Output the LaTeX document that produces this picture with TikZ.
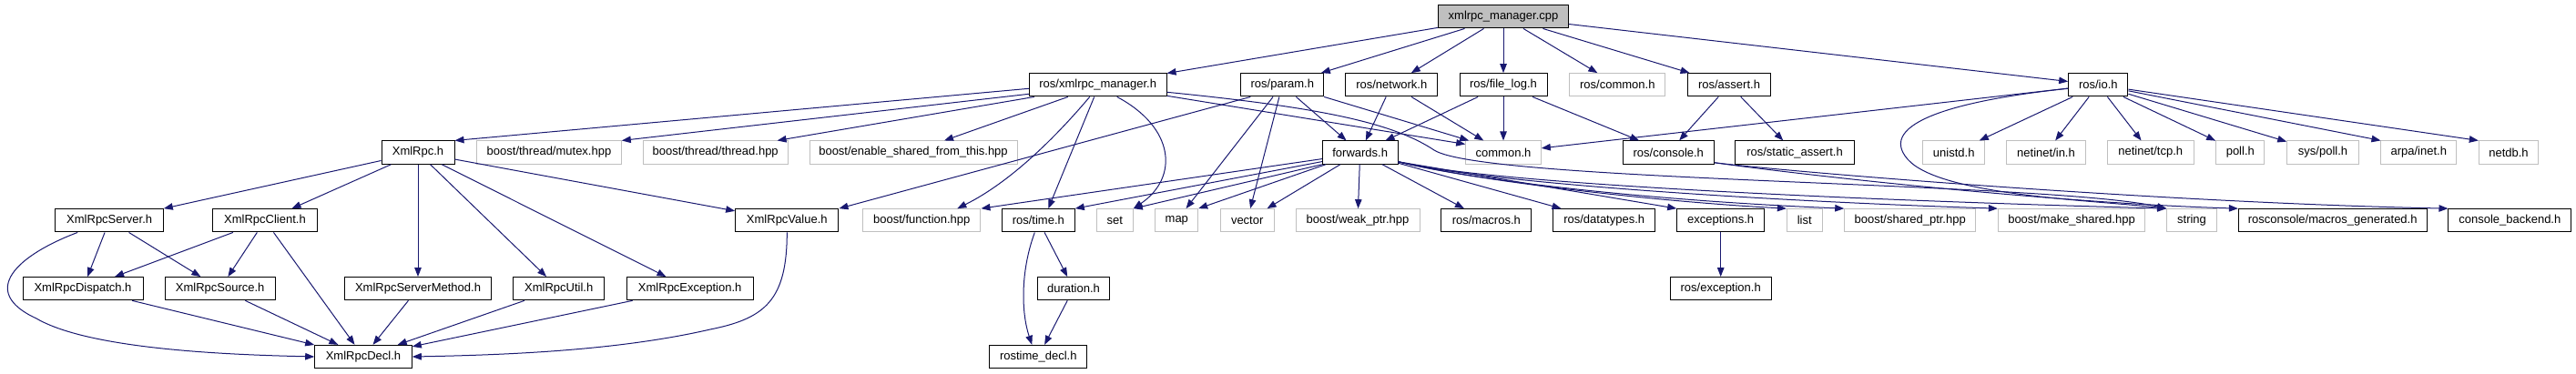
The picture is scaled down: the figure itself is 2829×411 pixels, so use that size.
\documentclass[tikz,border=0pt]{standalone}
\usepackage{fontspec}
\setmainfont{Liberation Sans}
\usetikzlibrary{arrows.meta}
\definecolor{edgeblue}{HTML}{191970}
\definecolor{grayborder}{HTML}{BFBFBF}
\begin{document}
\begin{tikzpicture}[x=1pt,y=-1pt,
  box/.style={rectangle, inner sep=0pt, minimum height=25.3pt, line width=1pt, fill=white,
              font=\fontsize{13}{15}\selectfont, anchor=center},
  doc/.style={box, draw=black},
  ext/.style={box, draw=grayborder},
  topnode/.style={doc, fill=grayborder},
  dep/.style={draw=edgeblue, line width=1pt, -{Triangle[length=10pt,width=7.5pt]}},
]
\useasboundingbox (0,0) rectangle (2829,411);

% row 0
\node[topnode, minimum width=142.6pt] (cpp) at (1651,18.3) {xmlrpc\_manager.cpp};
% row 1
\node[doc, minimum width=150.7pt] (xm) at (1205.7,93.3) {ros/xmlrpc\_manager.h};
\node[doc, minimum width=90.7pt] (param) at (1408.3,93.3) {ros/param.h};
\node[doc, minimum width=101.3pt] (network) at (1528.3,93.3) {ros/network.h};
\node[doc, minimum width=96pt] (filelog) at (1651,93.3) {ros/file\_log.h};
\node[ext, minimum width=105.3pt] (roscommon) at (1776.3,93.3) {ros/common.h};
\node[doc, minimum width=90.6pt] (assert) at (1899,93.3) {ros/assert.h};
\node[doc, minimum width=65.3pt] (io) at (2304.3,93.3) {ros/io.h};
% row 2
\node[doc, minimum width=80pt] (xmlrpc) at (459,167.6) {XmlRpc.h};
\node[ext, minimum width=158.6pt] (mutex) at (603,167.6) {boost/thread/mutex.hpp};
\node[ext, minimum width=158.7pt] (thread) at (785.7,167.6) {boost/thread/thread.hpp};
\node[ext, minimum width=228pt] (enable) at (1003,167.6) {boost/enable\_shared\_from\_this.hpp};
\node[doc, minimum width=82.7pt] (fwd) at (1493.7,167.6) {forwards.h};
\node[ext, minimum width=82.6pt] (commonh) at (1651,167.6) {common.h};
\node[doc, minimum width=100pt] (console) at (1832.3,167.6) {ros/console.h};
\node[doc, minimum width=130.6pt] (sassert) at (1971,167.6) {ros/static\_assert.h};
\node[ext, minimum width=68pt] (unistd) at (2145.7,167.6) {unistd.h};
\node[ext, minimum width=86.6pt] (netin) at (2247,167.6) {netinet/in.h};
\node[ext, minimum width=94.7pt] (nettcp) at (2361.7,167.6) {netinet/tcp.h};
\node[ext, minimum width=53.3pt] (poll) at (2460.3,167.6) {poll.h};
\node[ext, minimum width=78.6pt] (syspoll) at (2551,167.6) {sys/poll.h};
\node[ext, minimum width=82.7pt] (arpa) at (2656.3,167.6) {arpa/inet.h};
\node[ext, minimum width=65.4pt] (netdb) at (2755,167.6) {netdb.h};
% row 3
\node[doc, minimum width=119pt] (server) at (120.2,242.3) {XmlRpcServer.h};
\node[doc, minimum width=114.6pt] (client) at (291,242.3) {XmlRpcClient.h};
\node[doc, minimum width=113.3pt] (value) at (864.3,242.3) {XmlRpcValue.h};
\node[ext, minimum width=129.3pt] (function) at (1012.3,242.3) {boost/function.hpp};
\node[doc, minimum width=80pt] (time) at (1140.3,242.3) {ros/time.h};
\node[ext, minimum width=40pt] (set) at (1224.3,242.3) {set};
\node[ext, minimum width=46.7pt] (map) at (1292.3,242.3) {map};
\node[ext, minimum width=58.7pt] (vector) at (1369.7,242.3) {vector};
\node[ext, minimum width=136pt] (weak) at (1491,242.3) {boost/weak\_ptr.hpp};
\node[doc, minimum width=98.7pt] (macros) at (1632.3,242.3) {ros/macros.h};
\node[doc, minimum width=112pt] (datatypes) at (1761.7,242.3) {ros/datatypes.h};
\node[doc, minimum width=96pt] (exceptions) at (1889.7,242.3) {exceptions.h};
\node[ext, minimum width=38.7pt] (list) at (1981.7,242.3) {list};
\node[ext, minimum width=144pt] (sharedptr) at (2097.7,242.3) {boost/shared\_ptr.hpp};
\node[ext, minimum width=161.4pt] (makeshared) at (2275,242.3) {boost/make\_shared.hpp};
\node[ext, minimum width=54.6pt] (string) at (2407,242.3) {string};
\node[doc, minimum width=206.7pt] (macrosgen) at (2561.7,242.3) {rosconsole/macros\_generated.h};
\node[doc, minimum width=134.7pt] (backend) at (2756.3,242.3) {console\_backend.h};
% row 4
\node[doc, minimum width=132pt] (dispatch) at (91,317.2) {XmlRpcDispatch.h};
\node[doc, minimum width=121.3pt] (source) at (241.7,317.2) {XmlRpcSource.h};
\node[doc, minimum width=161.4pt] (method) at (459,317.2) {XmlRpcServerMethod.h};
\node[doc, minimum width=100pt] (util) at (613.7,317.2) {XmlRpcUtil.h};
\node[doc, minimum width=138.7pt] (exception) at (757.7,317.2) {XmlRpcException.h};
\node[doc, minimum width=78.6pt] (duration) at (1179,317.2) {duration.h};
\node[doc, minimum width=110.7pt] (rosexc) at (1889.7,317.2) {ros/exception.h};
% row 5
\node[doc, minimum width=106.6pt] (decl) at (399,392) {XmlRpcDecl.h};
\node[doc, minimum width=106.7pt] (rtdecl) at (1140.3,392) {rostime\_decl.h};

% ---- edges ----
% xmlrpc_manager.cpp
\draw[dep] (cpp) -- (xm);
\draw[dep] (cpp) -- (param);
\draw[dep] (cpp) -- (network);
\draw[dep] (cpp) -- (filelog);
\draw[dep] (cpp) -- (roscommon);
\draw[dep] (cpp) -- (assert);
\draw[dep] (cpp) -- (io);
% ros/xmlrpc_manager.h
\draw[dep] ([yshift=-4pt]xm.west) -- (xmlrpc.north east);
\draw[dep] ([yshift=-10pt]xm.west) -- (mutex.north east);
\draw[dep] ([xshift=6pt]xm.south west) -- ([xshift=-12pt]thread.north east);
\draw[dep] ([xshift=43pt]xm.south west) -- ([xshift=34pt]enable.north);
\draw[dep] ([xshift=-9pt]xm.south) .. controls (1160,150) and (1110,200) .. ([xshift=39pt]function.north);
\draw[dep] ([xshift=-4pt]xm.south) -- ([xshift=11pt]time.north);
\draw[dep] ([xshift=21pt]xm.south) .. controls (1290,140) and (1295,195) .. (set.north east);
\draw[dep] ([yshift=-12pt]xm.east) -- ([yshift=-4pt]commonh.north west);
\draw[dep] ([yshift=-8pt]xm.east) .. controls (1450,118) and (1530,135) .. (1575,165)
           .. controls (1630,200) and (2250,200) .. (string.north west);
% ros/param.h
\draw[dep] ([xshift=-35pt]param.south) -- (value.north east);
\draw[dep] (param) -- (map);
\draw[dep] (param) -- (vector);
\draw[dep] (param) -- (fwd);
\draw[dep] (param.south east) -- ([xshift=4pt]commonh.north west);
% ros/network.h
\draw[dep] (network) -- (fwd);
\draw[dep] (network) -- (commonh);
% ros/file_log.h
\draw[dep] (filelog) -- (fwd);
\draw[dep] (filelog) -- (commonh);
\draw[dep] (filelog) -- (console);
% ros/assert.h
\draw[dep] (assert) -- (console);
\draw[dep] (assert) -- (sassert);
% ros/io.h
\draw[dep] (io) -- (commonh);
\draw[dep] ([yshift=-4pt]io.west) .. controls (2150,110) and (2060,135) .. (2095,175)
           .. controls (2130,215) and (2300,220) .. (string.north west);
\draw[dep] (io) -- (unistd);
\draw[dep] (io) -- (netin);
\draw[dep] (io) -- (nettcp);
\draw[dep] (io) -- (poll);
\draw[dep] (io) -- (syspoll);
\draw[dep] (io) -- (arpa.north west);
\draw[dep] (io) -- (netdb.north west);
% forwards.h
\draw[dep] ([yshift=-7pt]fwd.west) -- (function.north east);
\draw[dep] ([yshift=-10pt]fwd.west) -- (time.north east);
\draw[dep] (fwd.south west) -- (set.north east);
\draw[dep] ([xshift=4pt]fwd.south west) -- (map.north east);
\draw[dep] (fwd) -- (vector);
\draw[dep] (fwd) -- (weak);
\draw[dep] (fwd) -- (macros);
\draw[dep] (fwd) -- (datatypes);
\draw[dep] ([yshift=3pt]fwd.south east) -- (exceptions.north west);
\draw[dep] ([yshift=3pt]fwd.south east) .. controls +(80,20) and +(-150,-8) .. (list.north west);
\draw[dep] ([yshift=3pt]fwd.south east) .. controls +(90,22) and +(-200,-8) .. (sharedptr.north west);
\draw[dep] ([yshift=3pt]fwd.south east) .. controls +(100,24) and +(-250,-8) .. (makeshared.north west);
\draw[dep] ([yshift=3pt]fwd.south east) .. controls +(110,26) and +(-300,-8) .. (string.north west);
% ros/console.h
\draw[dep] ([yshift=2pt]console.south east) .. controls +(100,14) and +(-200,-6) .. (macrosgen.north west);
\draw[dep] ([yshift=2pt]console.south east) .. controls +(100,12) and +(-300,-6) .. (backend.north west);
% XmlRpc.h
\draw[dep] (xmlrpc) -- (server);
\draw[dep] (xmlrpc) -- (client);
\draw[dep] (xmlrpc) -- (method);
\draw[dep] (xmlrpc) -- (util);
\draw[dep] (xmlrpc) -- (exception);
\draw[dep] (xmlrpc) -- (value);
% XmlRpcServer.h
\draw[dep] (server) -- (dispatch);
\draw[dep] (server) -- (source);
\draw[dep] ([xshift=-35pt]server.south) .. controls (20,280) and (-25,320) .. (40,350)
           .. controls (100,385) and (260,390) .. (decl.west);
% XmlRpcClient.h
\draw[dep] (client) -- (dispatch);
\draw[dep] (client) -- (source);
\draw[dep] (client) -- (decl);
% into XmlRpcDecl.h
\draw[dep] (dispatch) -- (decl);
\draw[dep] (source) -- (decl);
\draw[dep] (method) -- (decl);
\draw[dep] (util) -- (decl);
\draw[dep] (exception) -- (decl);
\draw[dep] (value.south) .. controls (864.3,330) and (840,350) .. (780,362)
           .. controls (680,385) and (560,390) .. (decl.east);
% ros/time.h
\draw[dep] (time) -- (duration);
\draw[dep] ([xshift=-4pt]time.south) .. controls (1120,300) and (1122,345) .. ([xshift=-7pt]rtdecl.north);
\draw[dep] (duration) -- (rtdecl);
% exceptions.h
\draw[dep] (exceptions) -- (rosexc);
\end{tikzpicture}
\end{document}
